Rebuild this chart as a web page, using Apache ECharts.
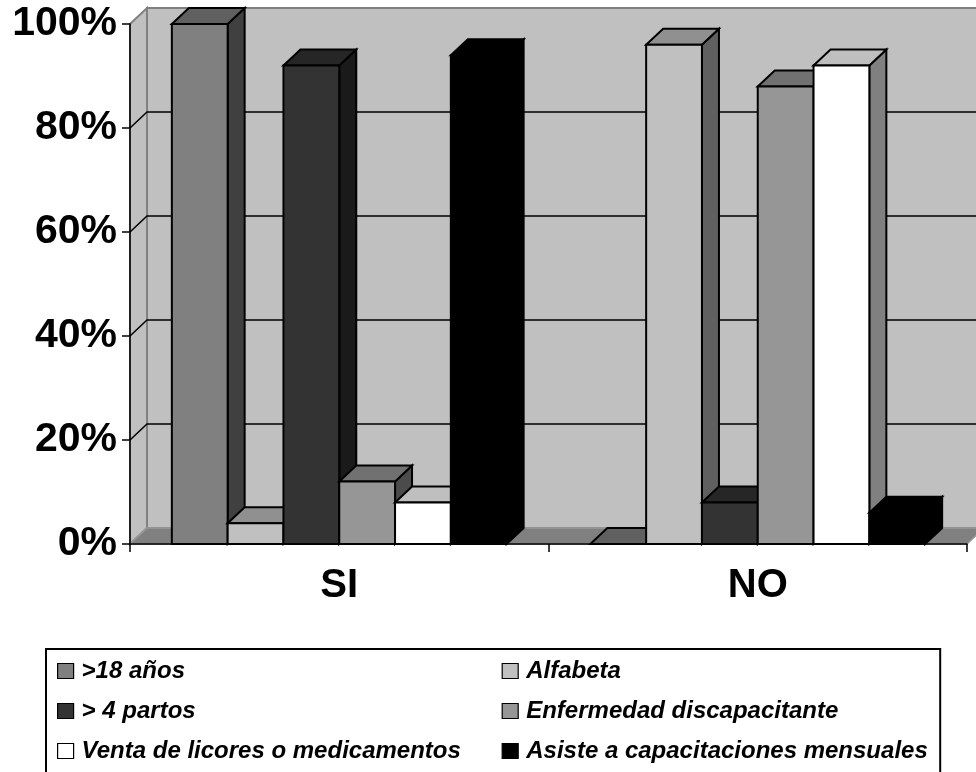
<!DOCTYPE html>
<html>
<head>
<meta charset="utf-8">
<script src="https://cdn.jsdelivr.net/npm/echarts@6/dist/echarts.min.js"></script>
<style>
  html, body { margin: 0; padding: 0; background: #ffffff; }
  #chart { width: 976px; height: 772px; }
</style>
</head>
<body>
<div id="chart"></div>
<script>
// Categories and series values (percentages)
const categories = ['SI', 'NO'];
const seriesNames = [
  '>18 años',
  'Alfabeta',
  '> 4 partos',
  'Enfermedad discapacitante',
  'Venta de licores o medicamentos',
  'Asiste a capacitaciones mensuales'
];
const mayor18 = [100, 0];
const alfabeta = [4, 96];
const partos = [92, 8];
const enfermedad = [12, 88];
const ventaLicores = [8, 92];
const capacitaciones = [94, 6];
const yTicks = [0, 20, 40, 60, 80, 100];

const seriesValues = [mayor18, alfabeta, partos, enfermedad, ventaLicores, capacitaciones];
const faceColors = ['#808080', '#C0C0C0', '#333333', '#969696', '#FFFFFF', '#000000'];

// Pseudo-3D geometry: depth offset of the back plane, gap between clusters
const DEPTH_X = 17;
const DEPTH_Y = -16;
const GAP_RATIO = 1.5;
const FONT = 'Arial, "Liberation Sans", sans-serif';

function shade(hex, f) {
  const n = parseInt(hex.slice(1), 16);
  const r = Math.round(((n >> 16) & 255) * f);
  const g = Math.round(((n >> 8) & 255) * f);
  const b = Math.round((n & 255) * f);
  return 'rgb(' + r + ',' + g + ',' + b + ')';
}

// Side wall, back wall, floor and the back gridlines
function renderWalls(params, api) {
  const cs = params.coordSys;
  const xl = cs.x;
  const xr = cs.x + cs.width;
  const yb = api.coord([0, yTicks[0]])[1];
  const yt = api.coord([0, yTicks[yTicks.length - 1]])[1];
  const wallStyle = { fill: '#C0C0C0', stroke: '#808080', lineWidth: 2 };
  const children = [
    {
      type: 'polygon',
      shape: { points: [[xl + DEPTH_X, yt + DEPTH_Y], [xr + DEPTH_X, yt + DEPTH_Y], [xr + DEPTH_X, yb + DEPTH_Y], [xl + DEPTH_X, yb + DEPTH_Y]] },
      style: wallStyle
    },
    {
      type: 'polygon',
      shape: { points: [[xl, yt], [xl + DEPTH_X, yt + DEPTH_Y], [xl + DEPTH_X, yb + DEPTH_Y], [xl, yb]] },
      style: wallStyle
    },
    {
      type: 'polygon',
      shape: { points: [[xl, yb], [xl + DEPTH_X, yb + DEPTH_Y], [xr + DEPTH_X, yb + DEPTH_Y], [xr, yb]] },
      style: { fill: '#808080', stroke: '#999999', lineWidth: 1.5 }
    }
  ];
  for (let i = 1; i < yTicks.length - 1; i++) {
    const y = api.coord([0, yTicks[i]])[1];
    children.push({
      type: 'polyline',
      shape: { points: [[xl, y], [xl + DEPTH_X, y + DEPTH_Y], [xr + DEPTH_X, y + DEPTH_Y]] },
      style: { stroke: '#000000', lineWidth: 1.5, fill: null }
    });
  }
  return { type: 'group', children: children };
}

// One 3D column: front face, top face and right side face
function makeBarRenderer(k) {
  const front = faceColors[k];
  const top = shade(front, 0.75);
  const side = shade(front, 0.5);
  const n = seriesValues.length;
  return function (params, api) {
    const cat = api.value(0);
    const val = api.value(1);
    const base = api.coord([cat, 0]);
    const peak = api.coord([cat, val]);
    const catW = api.size([1, 0])[0];
    const barW = catW / (n + GAP_RATIO);
    const x0 = base[0] - catW / 2 + barW * GAP_RATIO / 2 + k * barW;
    const x1 = x0 + barW;
    const yb = base[1];
    const yt = peak[1];
    const line = { stroke: '#000000', lineWidth: 2, lineJoin: 'miter' };
    return {
      type: 'group',
      children: [
        {
          type: 'polygon',
          shape: { points: [[x1, yt], [x1 + DEPTH_X, yt + DEPTH_Y], [x1 + DEPTH_X, yb + DEPTH_Y], [x1, yb]] },
          style: Object.assign({ fill: side }, line)
        },
        {
          type: 'polygon',
          shape: { points: [[x0, yt], [x0 + DEPTH_X, yt + DEPTH_Y], [x1 + DEPTH_X, yt + DEPTH_Y], [x1, yt]] },
          style: Object.assign({ fill: top }, line)
        },
        {
          type: 'polygon',
          shape: { points: [[x0, yt], [x1, yt], [x1, yb], [x0, yb]] },
          style: Object.assign({ fill: front }, line)
        }
      ]
    };
  };
}

const barSeries = seriesValues.map(function (vals, k) {
  return {
    name: seriesNames[k],
    type: 'custom',
    z: 3,
    clip: false,
    itemStyle: { color: faceColors[k] },
    renderItem: makeBarRenderer(k),
    encode: { x: 0, y: 1 },
    data: vals.map(function (v, i) { return [i, v]; })
  };
});

const chart = echarts.init(document.getElementById('chart'), null, { renderer: 'canvas' });

chart.setOption({
  backgroundColor: '#ffffff',
  animation: false,
  grid: { left: 130, right: 9, top: 24, bottom: 228, containLabel: false },
  xAxis: {
    type: 'category',
    data: categories,
    z: 10,
    boundaryGap: true,
    axisLine: { show: true, lineStyle: { color: '#000000', width: 1.5 } },
    axisTick: { show: true, length: 8, interval: 0, lineStyle: { color: '#000000', width: 1.5 } },
    axisLabel: {
      margin: 22,
      color: '#000000',
      fontFamily: FONT,
      fontSize: 40,
      fontWeight: 'bold'
    },
    splitLine: { show: false }
  },
  yAxis: {
    type: 'value',
    min: yTicks[0],
    max: yTicks[yTicks.length - 1],
    interval: yTicks[1] - yTicks[0],
    z: 10,
    axisLine: { show: true, lineStyle: { color: '#000000', width: 1.5 } },
    axisTick: { show: true, length: 8, lineStyle: { color: '#000000', width: 1.5 } },
    axisLabel: {
      margin: 13,
      color: '#000000',
      fontFamily: FONT,
      fontSize: 41,
      fontWeight: 'bold',
      formatter: '{value}%'
    },
    splitLine: { show: false }
  },
  legend: {
    data: seriesNames,
    left: 46,
    top: 649,
    width: 890,
    orient: 'horizontal',
    icon: 'rect',
    itemWidth: 16,
    itemHeight: 15,
    itemGap: 8,
    padding: [6, 2, 40, 11],
    borderColor: '#000000',
    borderWidth: 2,
    backgroundColor: '#ffffff',
    selectedMode: false,
    itemStyle: { borderColor: '#000000', borderWidth: 1.2 },
    textStyle: {
      color: '#000000',
      fontFamily: FONT,
      fontSize: 24,
      fontWeight: 'bold',
      fontStyle: 'italic',
      width: 412,
      lineHeight: 32,
      padding: [0, 0, 0, 3]
    }
  },
  series: [
    {
      type: 'custom',
      name: 'walls',
      z: 1,
      clip: false,
      silent: true,
      renderItem: renderWalls,
      encode: { x: 0, y: 1 },
      data: [[0, 0]]
    }
  ].concat(barSeries)
});
</script>
</body>
</html>
